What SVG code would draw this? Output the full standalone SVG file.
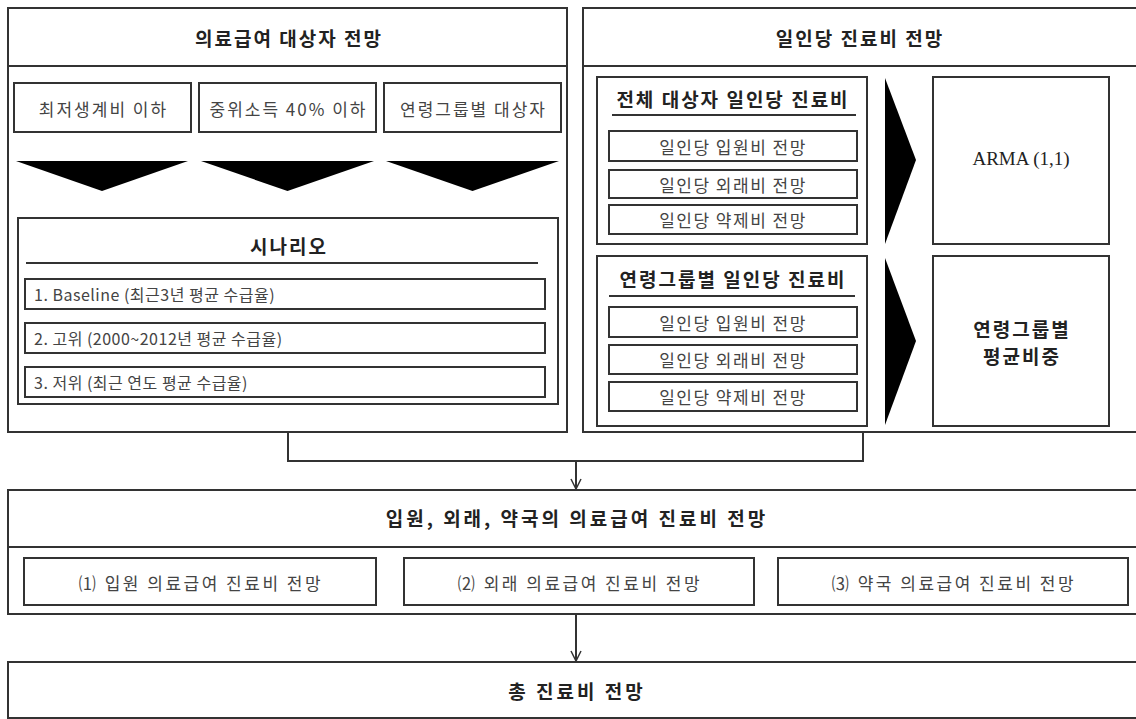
<svg xmlns="http://www.w3.org/2000/svg" width="1136" height="719" viewBox="0 0 1136 719">
<defs>
<style>
.box{fill:#fff;stroke:#333;stroke-width:2}
.ln{stroke:#333;stroke-width:2;fill:none}
.tri{fill:#000}
.t{font-family:"Noto Sans CJK KR","Noto Sans",sans-serif;fill:#222;dominant-baseline:central}
.h{font-size:19px;font-weight:bold;text-anchor:middle;letter-spacing:2px}
.hb{font-size:19px;font-weight:bold;text-anchor:middle;letter-spacing:3px}
.s{font-size:17px;text-anchor:middle;fill:#444;letter-spacing:2px}
.m{font-size:17px;text-anchor:middle;fill:#444;letter-spacing:2.5px}
.i{font-size:16px;fill:#444;letter-spacing:0.5px}
.r{font-size:17px;text-anchor:middle;fill:#444;letter-spacing:1.5px}
</style>
<marker id="ah" viewBox="0 0 12 12" refX="11" refY="6" markerWidth="12" markerHeight="12" markerUnits="userSpaceOnUse" orient="auto"><path d="M1,1 L11,6 L1,11" fill="none" stroke="#333" stroke-width="1.5"/></marker>
</defs>
<rect width="1136" height="719" fill="#fff"/>

<g id="recipients">
<rect class="box" x="8" y="8" width="559" height="424"/>
<line class="ln" x1="8" y1="66" x2="567" y2="66"/>
<text class="t h" x="289" y="37">의료급여 대상자 전망</text>
</g>
<g id="below-min-cost">
<rect class="box" x="14" y="83" width="177" height="49"/>
<text class="t s" x="103.5" y="108">최저생계비 이하</text>
<polygon class="tri" points="16,161 188,161 102,191"/>
</g>
<g id="below-median">
<rect class="box" x="199" y="83" width="177" height="49"/>
<text class="t s" x="288.5" y="108">중위소득 40% 이하</text>
<polygon class="tri" points="201,161 374,161 287.5,191"/>
</g>
<g id="by-age">
<rect class="box" x="384" y="83" width="177" height="49"/>
<text class="t s" x="473.5" y="108">연령그룹별 대상자</text>
<polygon class="tri" points="386,161 559,161 472.5,191"/>
</g>
<g id="scenario">
<rect class="box" x="18" y="218" width="540" height="186"/>
<text class="t h" x="289" y="245">시나리오</text>
<line class="ln" x1="26" y1="263" x2="538" y2="263"/>
<rect class="box" x="25" y="279" width="520" height="30"/>
<text class="t i" x="34" y="294">1. Baseline (최근3년 평균 수급율)</text>
<rect class="box" x="25" y="323" width="520" height="30"/>
<text class="t i" x="34" y="338">2. 고위 (2000~2012년 평균 수급율)</text>
<rect class="box" x="25" y="367" width="520" height="30"/>
<text class="t i" x="34" y="382">3. 저위 (최근 연도 평균 수급율)</text>
</g>

<g id="per-capita">
<rect class="box" x="583" y="8" width="560" height="424"/>
<line class="ln" x1="583" y1="66" x2="1143" y2="66"/>
<text class="t h" x="860" y="37">일인당 진료비 전망</text>
</g>
<g id="all-recipients">
<rect class="box" x="597" y="77" width="270" height="167"/>
<text class="t h" x="733" y="98">전체 대상자 일인당 진료비</text>
<line class="ln" x1="612" y1="115" x2="856" y2="115"/>
<rect class="box" x="609" y="131" width="248" height="30"/>
<text class="t r" x="733" y="146">일인당 입원비 전망</text>
<rect class="box" x="609" y="170" width="248" height="28"/>
<text class="t r" x="733" y="184">일인당 외래비 전망</text>
<rect class="box" x="609" y="205" width="248" height="29"/>
<text class="t r" x="733" y="219.5">일인당 약제비 전망</text>
<polygon class="tri" points="885,78 916,160 885,244"/>
</g>
<g id="arma">
<rect class="box" x="933" y="77" width="176" height="167"/>
<text class="t" x="1021" y="158" style="font-family:'Liberation Serif',serif;font-size:19px;text-anchor:middle">ARMA (1,1)</text>
</g>
<g id="age-group">
<rect class="box" x="597" y="256" width="270" height="170"/>
<text class="t h" x="733" y="278">연령그룹별 일인당 진료비</text>
<line class="ln" x1="609" y1="296" x2="855" y2="296"/>
<rect class="box" x="609" y="307" width="248" height="30"/>
<text class="t r" x="733" y="322">일인당 입원비 전망</text>
<rect class="box" x="609" y="345" width="248" height="29"/>
<text class="t r" x="733" y="359.5">일인당 외래비 전망</text>
<rect class="box" x="609" y="382" width="248" height="29"/>
<text class="t r" x="733" y="396.5">일인당 약제비 전망</text>
<polygon class="tri" points="885,258 916,341 885,425"/>
</g>
<g id="age-weight">
<rect class="box" x="933" y="256" width="176" height="170"/>
<text class="t h" x="1022" y="328">연령그룹별</text>
<text class="t h" x="1022" y="355">평균비중</text>
</g>

<g id="by-type">
<rect class="box" x="8" y="490" width="1135" height="124"/>
<line class="ln" x1="8" y1="547" x2="1143" y2="547"/>
<text class="t hb" x="577" y="517">입원, 외래, 약국의 의료급여 진료비 전망</text>
<rect class="box" x="24" y="558" width="352" height="47"/>
<text class="t m" x="201" y="582">⑴ 입원 의료급여 진료비 전망</text>
<rect class="box" x="404" y="558" width="350" height="47"/>
<text class="t m" x="580" y="582">⑵ 외래 의료급여 진료비 전망</text>
<rect class="box" x="778" y="558" width="350" height="47"/>
<text class="t m" x="954" y="582">⑶ 약국 의료급여 진료비 전망</text>
</g>
<g id="total">
<rect class="box" x="8" y="662" width="1135" height="56"/>
<text class="t hb" x="577" y="690">총 진료비 전망</text>
</g>

<g id="connectors">
<polyline class="ln" points="288,432 288,461 863,461 863,432"/>
<line class="ln" x1="576" y1="461" x2="576" y2="489" marker-end="url(#ah)"/>
<line class="ln" x1="576" y1="614" x2="576" y2="661" marker-end="url(#ah)"/>
</g>
</svg>
